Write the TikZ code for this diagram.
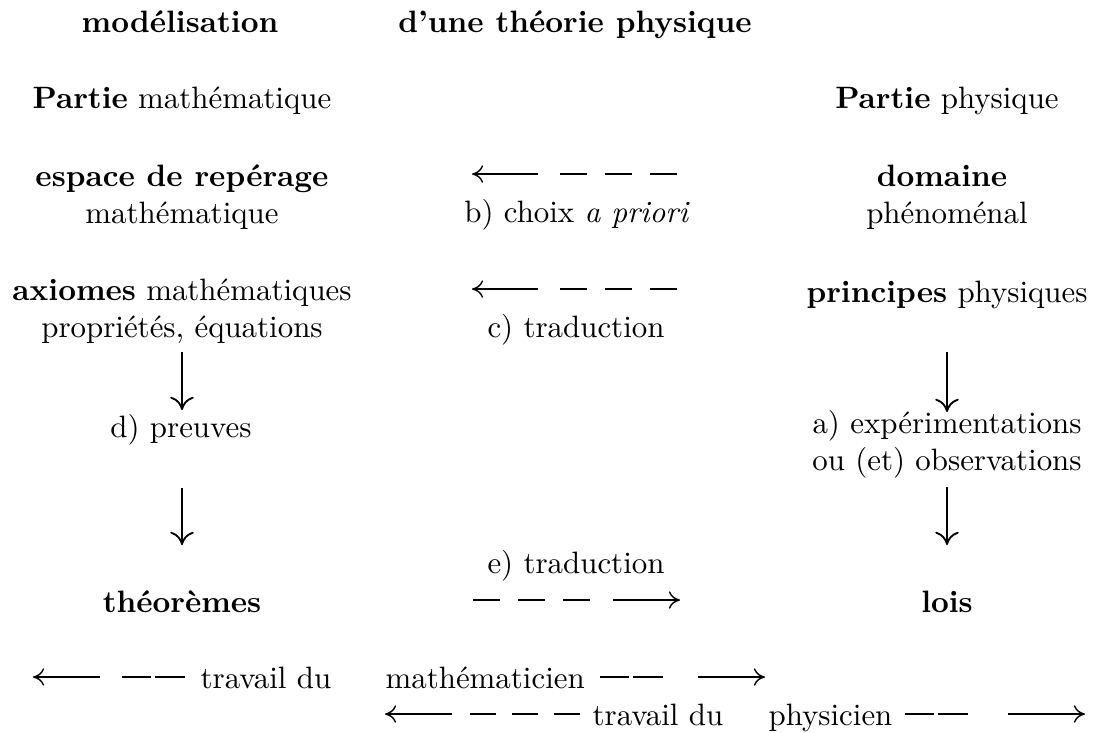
\documentclass[tikz,border=0pt]{standalone}
\usetikzlibrary{arrows.meta}
\begin{document}
\begin{tikzpicture}[x=0.3236pt,y=-0.3236pt,
  txt/.style={inner sep=0pt,anchor=base},
  txtw/.style={inner sep=0pt,anchor=base west},
  varr/.style={line width=0.6pt,-{Computer Modern Rightarrow[length=4.3pt,width=7.6pt]}},
  harr/.style={line width=0.45pt,-{Computer Modern Rightarrow[length=3.6pt,width=5.6pt]}},
  dthree/.style={line width=0.45pt,dash pattern=on 8.74pt off 5.83pt},
  dthreeb/.style={line width=0.45pt,dash pattern=on 8.4pt off 5.2pt},
  dtwo/.style={line width=0.45pt,dash pattern=on 9.5pt off 1.3pt}]
\useasboundingbox (0,0) rectangle (1094,732);
% titles
\node[txt] (mod) at (180,32) {\textbf{modélisation}};
\node[txt] (dune) at (575,32) {\textbf{d’une théorie physique}};
\node[txt] (pmath) at (182,108) {\textbf{Partie} mathématique};
\node[txt] (pphys) at (947,108) {\textbf{Partie} physique};
% rows
\node[txt] (esp) at (182,186) {\textbf{espace de repérage}};
\node[txt] (espm) at (182,223) {mathématique};
\node[txt] (dom) at (942,186) {\textbf{domaine}};
\node[txt] (domp) at (947,223) {phénoménal};
\node[txt] (b) at (577,222) {b) choix \textit{a priori}};
\node[txt] (ax) at (182,300) {\textbf{axiomes} mathématiques};
\node[txt] (prop) at (182,337) {propriétés, équations};
\node[txt] (c) at (576,337) {c) traduction};
\node[txt] (princ) at (947,302) {\textbf{principes} physiques};
\node[txt] (preu) at (181,437) {d) preuves};
\node[txt] (exp) at (947,433) {a) expérimentations};
\node[txt] (obs) at (947,470) {ou (et) observations};
\node[txt] (e) at (576,573) {e) traduction};
\node[txt] (theor) at (182,612) {\textbf{théorèmes}};
\node[txt] (lois) at (947,612) {\textbf{lois}};
\node[txtw] (tm) at (200,688) {travail du};
\node[txtw] (math) at (385,688) {mathématicien};
\node[txtw] (tp) at (592,725) {travail du};
\node[txtw] (phys) at (768,725) {physicien};
% vertical arrows
\coordinate (l1a) at (182,352); \coordinate (l1b) at (182,410);
\coordinate (l2a) at (182,488); \coordinate (l2b) at (182,545);
\coordinate (r1a) at (947,352); \coordinate (r1b) at (947,412);
\coordinate (r2a) at (947,487); \coordinate (r2b) at (947,545);
\draw[varr] (l1a) -- (l1b);
\draw[varr] (l2a) -- (l2b);
\draw[varr] (r1a) -- (r1b);
\draw[varr] (r2a) -- (r2b);
% b) arrow
\coordinate (bA) at (472,174); \coordinate (bB) at (538,174);
\coordinate (bC) at (560,174); \coordinate (bD) at (678,174);
\draw[harr] (bB) -- (bA);
\draw[dthree] (bC) -- (bD);
% c) arrow
\coordinate (cA) at (472,289); \coordinate (cB) at (538,289);
\coordinate (cC) at (560,289); \coordinate (cD) at (678,289);
\draw[harr] (cB) -- (cA);
\draw[dthree] (cC) -- (cD);
% e) arrow
\coordinate (eA) at (473,600); \coordinate (eB) at (593,600);
\coordinate (eC) at (613,600); \coordinate (eD) at (680,600);
\draw[dthree] (eA) -- (eB);
\draw[harr] (eC) -- (eD);
% bottom row 1
\coordinate (m1) at (100,677); \coordinate (m2) at (33,677);
\coordinate (m3) at (122,677); \coordinate (m4) at (185,677);
\draw[harr] (m1) -- (m2);
\draw[dtwo] (m3) -- (m4);
\coordinate (m5) at (600,677); \coordinate (m6) at (663,677);
\coordinate (m7) at (698,677); \coordinate (m8) at (765,677);
\draw[dtwo] (m5) -- (m6);
\draw[harr] (m7) -- (m8);
% bottom row 2
\coordinate (p1) at (452,714); \coordinate (p2) at (385,714);
\coordinate (p3) at (470,714); \coordinate (p4) at (580,714);
\draw[harr] (p1) -- (p2);
\draw[dthreeb] (p3) -- (p4);
\coordinate (p5) at (905,714); \coordinate (p6) at (968,714);
\coordinate (p7) at (1008,714); \coordinate (p8) at (1085,714);
\draw[dtwo] (p5) -- (p6);
\draw[harr] (p7) -- (p8);
\end{tikzpicture}
\end{document}
